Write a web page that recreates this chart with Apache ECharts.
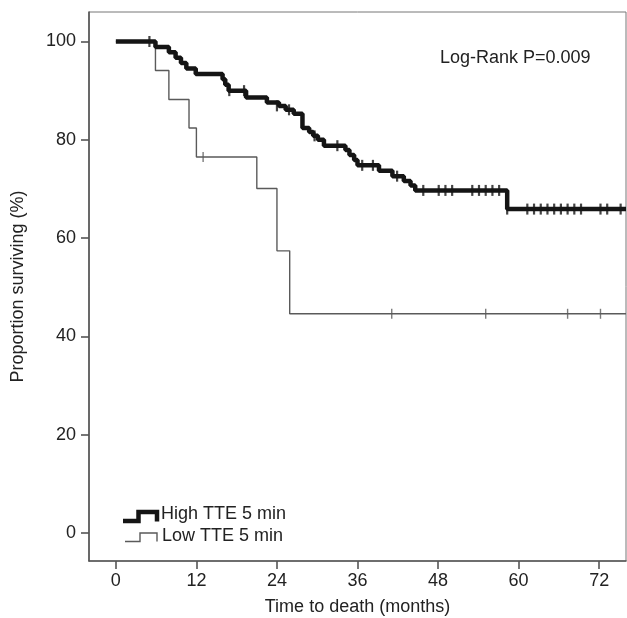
<!DOCTYPE html>
<html>
<head>
<meta charset="utf-8">
<script src="https://cdn.jsdelivr.net/npm/echarts@6/dist/echarts.min.js"></script>
<style>
html,body{margin:0;padding:0;background:#fff;}
#chart{width:627px;height:618px;}
</style>
</head>
<body>
<div id="chart"></div>
<script>
// ---- data ----
const xTicks = [0, 12, 24, 36, 48, 60, 72];
const yTicks = [0, 20, 40, 60, 80, 100];

const highTime = [0, 5.9, 7.9, 8.9, 9.7, 10.5, 11.9, 15.9, 16.3, 16.8, 19.4, 22.5, 24.3, 25.3, 26.5, 27.8, 28.8, 29.4, 30.1, 31.0, 34.2, 34.8, 35.5, 36.0, 39.2, 41.2, 42.9, 43.9, 44.6, 58.3, 76];
const highSurv = [100, 98.9, 97.8, 96.7, 95.6, 94.5, 93.4, 92.3, 91.2, 90.0, 88.6, 87.6, 86.9, 86.1, 85.3, 82.4, 81.6, 80.8, 80.0, 78.8, 77.9, 76.9, 75.9, 74.8, 73.7, 72.6, 71.6, 70.7, 69.7, 65.9, 65.9];

const highCensorTime = [5.0, 16.9, 19.1, 24.0, 25.8, 29.6, 33.0, 36.7, 38.3, 41.9, 45.8, 48.1, 49.1, 50.1, 53.1, 54.1, 55.1, 56.1, 57.1, 58.3, 61.3, 62.3, 63.3, 64.3, 65.3, 66.3, 67.3, 68.3, 69.3, 72.2, 73.2, 75.2];
const highCensorSurv = [100, 90.0, 90.0, 86.9, 86.1, 80.8, 78.8, 74.8, 74.8, 72.6, 69.7, 69.7, 69.7, 69.7, 69.7, 69.7, 69.7, 69.7, 69.7, 65.9, 65.9, 65.9, 65.9, 65.9, 65.9, 65.9, 65.9, 65.9, 65.9, 65.9, 65.9, 65.9];

const lowTime = [0, 5.9, 7.9, 10.9, 12.0, 21.0, 24.0, 25.9, 76];
const lowSurv = [100, 94.1, 88.2, 82.4, 76.5, 70.1, 57.4, 44.6, 44.6];

const lowCensorTime = [13.0, 41.1, 55.1, 67.3, 72.2];
const lowCensorSurv = [76.5, 44.6, 44.6, 44.6, 44.6];

const seriesNames = ['High TTE 5 min', 'Low TTE 5 min'];
const annotation = 'Log-Rank P=0.009';
const xName = 'Time to death (months)';
const yName = 'Proportion surviving (%)';

// ---- build ----
const zip = (a, b) => a.map((v, i) => [v, b[i]]);
const FONT = '"Liberation Sans", Arial, Helvetica, sans-serif';
const TXT = '#222';
const AX = '#555';

const chart = echarts.init(document.getElementById('chart'), null, {renderer: 'canvas'});
chart.setOption({
  animation: false,
  backgroundColor: '#fff',
  grid: {left: 89, right: 1, top: 12, bottom: 57, containLabel: false, outerBoundsMode: 'none',
         show: true, borderColor: '#777', borderWidth: 1},
  xAxis: {
    type: 'value', min: -4, max: 76,
    name: xName, nameLocation: 'middle', nameGap: 37,
    nameTextStyle: {fontFamily: FONT, fontSize: 18, color: TXT},
    axisLine: {show: true, onZero: false, lineStyle: {color: AX, width: 1.6}},
    axisTick: {show: true, length: 8, customValues: xTicks, lineStyle: {color: AX, width: 1.6}},
    axisLabel: {customValues: xTicks, margin: 11, fontFamily: FONT, fontSize: 18, color: TXT},
    splitLine: {show: false}
  },
  yAxis: {
    type: 'value', min: -5.7, max: 106,
    name: yName, nameLocation: 'middle', nameGap: 62,
    nameTextStyle: {fontFamily: FONT, fontSize: 18, color: TXT},
    axisLine: {show: true, onZero: false, lineStyle: {color: AX, width: 1.6}},
    axisTick: {show: true, length: 8, customValues: yTicks, lineStyle: {color: AX, width: 1.6}},
    axisLabel: {customValues: yTicks, margin: 13, fontFamily: FONT, fontSize: 18, color: TXT},
    splitLine: {show: false}
  },
  series: [
    {name: seriesNames[1], type: 'line', step: 'end', showSymbol: false, data: zip(lowTime, lowSurv),
     lineStyle: {color: '#5a5a5a', width: 1.4}, z: 2},
    {name: seriesNames[1] + ' censored', type: 'scatter', symbol: 'rect', symbolSize: [1.4, 10],
     itemStyle: {color: '#5a5a5a'}, data: zip(lowCensorTime, lowCensorSurv), z: 2},
    {name: seriesNames[0], type: 'line', step: 'end', showSymbol: false, data: zip(highTime, highSurv),
     lineStyle: {color: '#151515', width: 4.5}, z: 3},
    {name: seriesNames[0] + ' censored', type: 'scatter', symbol: 'rect', symbolSize: [2.2, 11],
     itemStyle: {color: '#151515'}, data: zip(highCensorTime, highCensorSurv), z: 3}
  ],
  graphic: [
    {type: 'text', left: 440, top: 49, style: {text: annotation, fontFamily: FONT, fontSize: 18, fill: TXT}},
    {type: 'polyline', shape: {points: [[123, 521], [138.5, 521], [138.5, 512], [157, 512], [157, 521.5]]},
     style: {stroke: '#151515', lineWidth: 4.5, fill: null, lineJoin: 'miter'}},
    {type: 'text', left: 161, top: 505, style: {text: seriesNames[0], fontFamily: FONT, fontSize: 18, fill: TXT}},
    {type: 'polyline', shape: {points: [[125, 541.5], [140, 541.5], [140, 533], [157, 533], [157, 541.5]]},
     style: {stroke: '#5a5a5a', lineWidth: 1.4, fill: null}},
    {type: 'text', left: 162, top: 527, style: {text: seriesNames[1], fontFamily: FONT, fontSize: 18, fill: TXT}}
  ]
});
</script>
</body>
</html>
